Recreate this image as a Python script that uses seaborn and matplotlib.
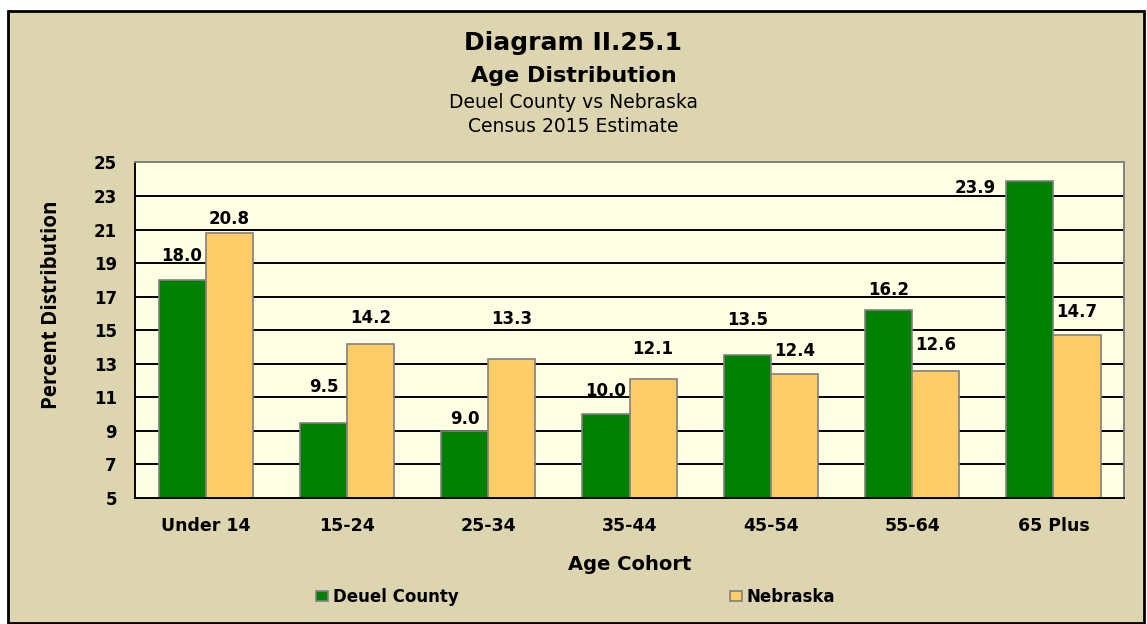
import pandas as pd
import seaborn as sns
import matplotlib.pyplot as plt
from matplotlib.patches import Rectangle

cohorts = ["Under 14", "15-24", "25-34", "35-44", "45-54", "55-64", "65 Plus"]
deuel = [18.0, 9.5, 9.0, 10.0, 13.5, 16.2, 23.9]
nebraska = [20.8, 14.2, 13.3, 12.1, 12.4, 12.6, 14.7]
series = ["Deuel County", "Nebraska"]

# label lift above bar top, in pixels (the source chart has hand-placed labels)
deuel_dy = [24, 36, 12, 23, 35, 20, -7]
nebraska_dy = [14, 26, 40, 30, 23, 26, 23]

df = pd.DataFrame({
    "Age Cohort": cohorts * 2,
    "Percent": deuel + nebraska,
    "Series": [series[0]] * len(cohorts) + [series[1]] * len(cohorts),
})

sns.set_style("white")
plt.rcParams["font.family"] = ["DejaVu Sans"]
plt.rcParams.update({"text.color": "black", "axes.labelcolor": "black",
                     "xtick.color": "black", "ytick.color": "black"})
YLABEL_FONT = ["Open Sans", "DejaVu Sans"]

fig = plt.figure(figsize=(11.47, 6.24), dpi=100)
fig.patch.set_facecolor("white")
fig.patches.append(Rectangle((8 / 1147, 1 / 624), 1136 / 1147, 612 / 624,
                             transform=fig.transFigure, facecolor="#DDD5B0",
                             edgecolor="black", linewidth=2, zorder=-5))

ax = fig.add_axes([0.1177, 0.2019, 0.8623, 0.5377])
ax.set_facecolor("#FFFFE3")

sns.barplot(data=df, x="Age Cohort", y="Percent", hue="Series",
            hue_order=series, order=cohorts,
            palette={"Deuel County": "#008000", "Nebraska": "#FFCC66"},
            saturation=1, width=0.667, edgecolor="#808080", linewidth=1.2,
            legend=False, ax=ax, zorder=2)

ax.set_ylim(5, 25)
ax.set_xlim(-0.5, len(cohorts) - 0.5)
yt = list(range(5, 26, 2))
ax.set_yticks(yt)
ax.hlines(yt[1:-1], -0.5, len(cohorts) - 0.5, colors="black",
          linewidth=1.4, zorder=1)

ax.set_xticks(range(len(cohorts)))
ax.set_xticklabels(cohorts, fontsize=12.5, fontweight="bold")
ax.set_xticks([i - 0.5 for i in range(len(cohorts) + 1)], minor=True)
ax.tick_params(axis="x", which="major", length=0, pad=14)
ax.tick_params(axis="x", which="minor", length=5, width=1.2,
               direction="out", color="black")
ax.tick_params(axis="y", length=5, width=1.2, direction="out",
               color="black", pad=8)
for lab in ax.get_yticklabels():
    lab.set_fontsize(12)
    lab.set_fontweight("bold")

for side in ["left", "bottom"]:
    ax.spines[side].set_color("black")
    ax.spines[side].set_linewidth(1.4)
for side in ["top", "right"]:
    ax.spines[side].set_color("#808080")
    ax.spines[side].set_linewidth(1.4)

ax.set_xlabel("Age Cohort", fontsize=14, fontweight="bold", labelpad=14)
ax.set_ylabel("Percent Distribution", fontsize=14.8, fontweight="bold",
              family=YLABEL_FONT, labelpad=23, y=0.577)

for bar, val, dy in zip(ax.containers[0], deuel, deuel_dy):
    x = bar.get_x()
    if dy < 0:
        ax.annotate(f"{val:.1f}", (x, bar.get_height()),
                    xytext=(-10, dy), textcoords="offset pixels",
                    ha="right", va="center", fontsize=12, fontweight="bold")
    else:
        ax.annotate(f"{val:.1f}", (x + bar.get_width() / 2, bar.get_height()),
                    xytext=(0, dy), textcoords="offset pixels",
                    ha="center", va="center", fontsize=12, fontweight="bold")
for bar, val, dy in zip(ax.containers[1], nebraska, nebraska_dy):
    ax.annotate(f"{val:.1f}", (bar.get_x() + bar.get_width() / 2, bar.get_height()),
                xytext=(0, dy), textcoords="offset pixels",
                ha="center", va="center", fontsize=12, fontweight="bold")

fig.text(0.5, 1 - 43 / 624, "Diagram II.25.1", ha="center", va="center",
         fontsize=18, fontweight="bold")
fig.text(0.5, 1 - 76 / 624, "Age Distribution", ha="center", va="center",
         fontsize=16, fontweight="bold")
fig.text(0.5, 1 - 103 / 624, "Deuel County vs Nebraska", ha="center",
         va="center", fontsize=13.5)
fig.text(0.5, 1 - 127 / 624, "Census 2015 Estimate", ha="center",
         va="center", fontsize=13.5)

handles = [Rectangle((0, 0), 1, 1, facecolor=c, edgecolor="#808080", linewidth=1.2)
           for c in ["#008000", "#FFCC66"]]
fig.legend(handles, series, loc="center", bbox_to_anchor=(0.502, 1 - 597 / 624),
           ncol=2, frameon=False, handlelength=0.7, handleheight=0.6,
           handletextpad=0.3, columnspacing=16.3,
           prop={"size": 12, "weight": "bold"})

fig.savefig("out.png", dpi=100, facecolor=fig.get_facecolor())
